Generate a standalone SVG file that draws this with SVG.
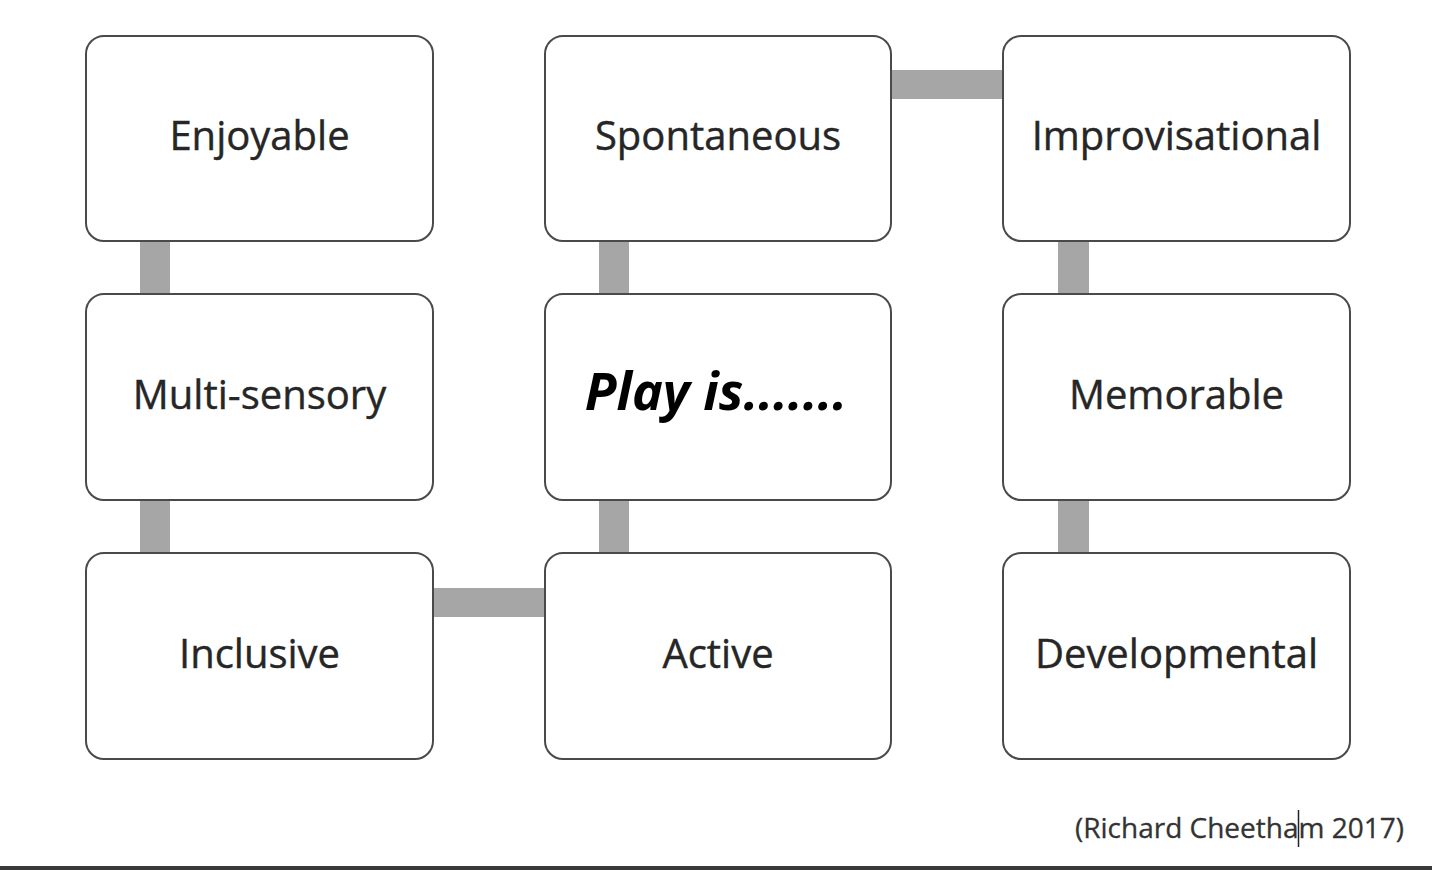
<svg xmlns="http://www.w3.org/2000/svg" width="1432" height="870" viewBox="0 0 1432 870">
<style>
.box{fill:#fff;stroke:#4a4a4a;stroke-width:2}
.lbl{font-family:"Open Sans","Liberation Sans",sans-serif;font-size:40px;fill:#262626;stroke:#262626;stroke-width:0.4;text-anchor:middle}
.main{font-family:"Open Sans","Liberation Sans",sans-serif;font-size:52px;font-weight:bold;font-style:italic;fill:#000;text-anchor:middle}
.conn{fill:#a6a6a6}
</style>
<rect width="1432" height="870" fill="#fff"/>
<g id="connectors">
<rect class="conn" x="140" y="241" width="30" height="53"/>
<rect class="conn" x="140" y="500" width="30" height="53"/>
<rect class="conn" x="599" y="241" width="30" height="53"/>
<rect class="conn" x="599" y="500" width="30" height="53"/>
<rect class="conn" x="1058" y="241" width="31" height="53"/>
<rect class="conn" x="1058" y="500" width="31" height="53"/>
<rect class="conn" x="891" y="70" width="112" height="29"/>
<rect class="conn" x="433" y="588" width="112" height="29"/>
</g>
<g id="enjoyable"><rect class="box" x="86" y="36" width="347" height="205" rx="18"/><text class="lbl" x="259.5" y="150">Enjoyable</text></g>
<g id="spontaneous"><rect class="box" x="545" y="36" width="346" height="205" rx="18"/><text class="lbl" x="718" y="150">Spontaneous</text></g>
<g id="improvisational"><rect class="box" x="1003" y="36" width="347" height="205" rx="18"/><text class="lbl" x="1176.5" y="150">Improvisational</text></g>
<g id="multisensory"><rect class="box" x="86" y="294" width="347" height="206" rx="18"/><text class="lbl" x="259.5" y="409">Multi-sensory</text></g>
<g id="playis"><rect class="box" x="545" y="294" width="346" height="206" rx="18"/><text class="main" x="716" y="410">Play is.......</text></g>
<g id="memorable"><rect class="box" x="1003" y="294" width="347" height="206" rx="18"/><text class="lbl" x="1176.5" y="409">Memorable</text></g>
<g id="inclusive"><rect class="box" x="86" y="553" width="347" height="206" rx="18"/><text class="lbl" x="259.5" y="668">Inclusive</text></g>
<g id="active"><rect class="box" x="545" y="553" width="346" height="206" rx="18"/><text class="lbl" x="718" y="668">Active</text></g>
<g id="developmental"><rect class="box" x="1003" y="553" width="347" height="206" rx="18"/><text class="lbl" x="1176.5" y="668">Developmental</text></g>
<text x="1404" y="838" font-family="'Open Sans','Liberation Sans',sans-serif" font-size="28" fill="#333" stroke="#333" stroke-width="0.3" text-anchor="end">(Richard Cheetham 2017)</text>
<line x1="1298.5" y1="810" x2="1298.5" y2="847" stroke="#222" stroke-width="1.5"/>
<rect x="0" y="866" width="1432" height="4" fill="#3a3a3a"/>
</svg>
